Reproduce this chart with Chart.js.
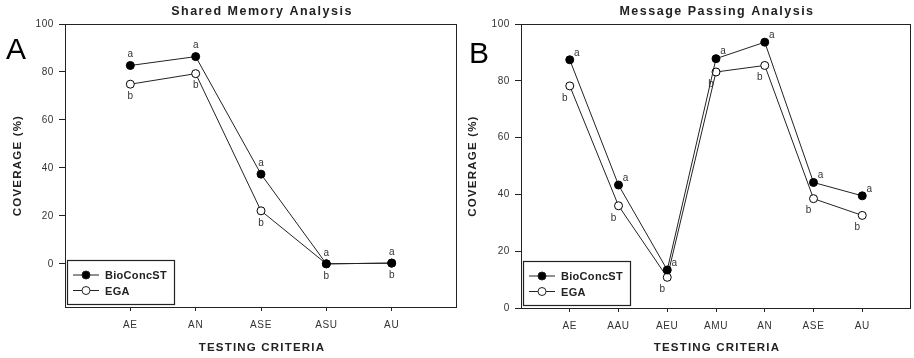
<!DOCTYPE html>
<html>
<head>
<meta charset="utf-8">
<script src="https://cdn.jsdelivr.net/npm/chart.js@4.4.1/dist/chart.umd.min.js"></script>
<style>
  body { margin: 0; background: #fff; }
  .wrap { position: relative; width: 914px; height: 358px; overflow: hidden; }
  .panel { position: absolute; top: 0; width: 462px; height: 358px; }
  #left { left: 0; }
  #right { left: 454px; }
</style>
</head>
<body>
<div class="wrap">
  <div class="panel" id="left"><canvas id="chartA"></canvas></div>
  <div class="panel" id="right"><canvas id="chartB"></canvas></div>
</div>
<script>
// data
const sharedCats = ['AE', 'AN', 'ASE', 'ASU', 'AU'];
const sharedBio = [82.7, 86.4, 37.4, 0, 0.3];
const sharedEga = [74.9, 79.3, 22.1, 0, 0.3];

const msgCats = ['AE', 'AAU', 'AEU', 'AMU', 'AN', 'ASE', 'AU'];
const msgBio = [87.4, 43.3, 13.4, 87.8, 93.6, 44.2, 39.5];
const msgEga = [78.2, 36.0, 10.8, 83.1, 85.4, 38.5, 32.6];

const yTicks = [0, 20, 40, 60, 80, 100];
const bioMark = 'a';
const egaMark = 'b';

const FONT = "'Liberation Sans', Arial, sans-serif";
const INK = '#222';

function toPoints(vals) {
  return vals.map((v, i) => ({ x: i, y: v }));
}

// frame, titles, panel letter, a/b marks and the boxed legend
const decor = {
  id: 'decor',
  beforeDraw(chart) {
    chart.ctx.letterSpacing = '0.6px';
  },
  afterDraw(chart, args, o) {
    const ctx = chart.ctx;
    const a = chart.chartArea;
    ctx.save();
    ctx.strokeStyle = INK;
    ctx.lineWidth = 1;
    ctx.strokeRect(Math.round(a.left) + 0.5, Math.round(a.top) + 0.5,
      Math.round(a.right - a.left) - 1, Math.round(a.bottom - a.top));

    const cx = (a.left + a.right) / 2;
    ctx.fillStyle = INK;
    ctx.textAlign = 'center';
    ctx.textBaseline = 'middle';
    ctx.letterSpacing = '1.5px';
    ctx.font = 'bold 12.5px ' + FONT;
    ctx.fillText(o.title, cx + 1, 12);
    ctx.letterSpacing = '1.2px';
    ctx.font = 'bold 11.5px ' + FONT;
    ctx.fillText('TESTING CRITERIA', cx + 1, 348);

    ctx.save();
    ctx.translate(o.yTitleX, (a.top + a.bottom) / 2);
    ctx.rotate(-Math.PI / 2);
    ctx.fillText('COVERAGE (%)', 0, 0);
    ctx.restore();

    ctx.letterSpacing = '0px';
    ctx.font = '30px ' + FONT;
    ctx.fillStyle = '#000';
    ctx.fillText(o.letter, o.letterX, o.letterY);

    // significance letters
    ctx.font = '10px ' + FONT;
    ctx.fillStyle = '#333';
    chart.data.datasets.forEach((ds, di) => {
      const meta = chart.getDatasetMeta(di);
      const off = di === 0 ? o.aOff : o.bOff;
      meta.data.forEach(el => {
        ctx.fillText(ds.mark, el.x + off[0], el.y + off[1]);
      });
    });

    // legend
    const lx = a.left + 2, ly = a.bottom - 47;
    ctx.strokeStyle = INK;
    ctx.lineWidth = 1.2;
    ctx.strokeRect(lx + 0.5, ly + 0.5, 107, 44);
    ctx.font = 'bold 11px ' + FONT;
    ctx.letterSpacing = '0.3px';
    ctx.textAlign = 'left';
    chart.data.datasets.forEach((ds, di) => {
      const y = ly + 15 + di * 15.5;
      ctx.strokeStyle = INK;
      ctx.lineWidth = 1;
      ctx.beginPath();
      ctx.moveTo(lx + 6, y);
      ctx.lineTo(lx + 32, y);
      ctx.stroke();
      ctx.beginPath();
      ctx.arc(lx + 19, y, 4, 0, Math.PI * 2);
      ctx.fillStyle = ds.pointBackgroundColor;
      ctx.fill();
      ctx.stroke();
      ctx.fillStyle = INK;
      ctx.fillText(ds.label, lx + 38, y + 1);
    });
    ctx.restore();
  }
};

function makeChart(id, cats, bio, ega, yMin, opts) {
  return new Chart(document.getElementById(id), {
    type: 'line',
    data: {
      datasets: [
        {
          label: 'BioConcST', mark: bioMark, data: toPoints(bio),
          borderColor: INK, borderWidth: 1,
          pointBackgroundColor: '#000', pointBorderColor: '#000',
          pointRadius: 4, pointBorderWidth: 1
        },
        {
          label: 'EGA', mark: egaMark, data: toPoints(ega),
          borderColor: INK, borderWidth: 1,
          pointBackgroundColor: '#fff', pointBorderColor: '#000',
          pointRadius: 4, pointBorderWidth: 1
        }
      ]
    },
    options: {
      responsive: false,
      animation: false,
      layout: { padding: { top: 24, right: 0, left: 0, bottom: 0 } },
      plugins: {
        legend: { display: false },
        tooltip: { enabled: false },
        decor: opts
      },
      scales: {
        x: {
          type: 'linear', min: -1, max: cats.length,
          afterBuildTicks: s => { s.ticks = cats.map((c, i) => ({ value: i })); },
          afterFit: s => { s.height = opts.xHeight; },
          ticks: {
            autoSkip: false, maxRotation: 0, padding: 8,
            color: '#333', font: { family: FONT, size: 10 },
            callback: v => cats[v]
          },
          grid: { drawOnChartArea: false, tickLength: 4, color: INK },
          border: { display: false }
        },
        y: {
          min: yMin, max: 100,
          afterBuildTicks: s => { s.ticks = yTicks.map(v => ({ value: v })); },
          afterFit: s => { s.width = opts.yWidth; },
          ticks: {
            padding: 5, color: '#333', font: { family: FONT, size: 10 }
          },
          grid: { drawOnChartArea: false, tickLength: 6, color: INK },
          border: { display: false }
        }
      }
    },
    plugins: [decor]
  });
}

function sizeCanvas(id) {
  const c = document.getElementById(id);
  c.width = 462; c.height = 358;
  c.style.width = '462px'; c.style.height = '358px';
}
sizeCanvas('chartA');
sizeCanvas('chartB');

makeChart('chartA', sharedCats, sharedBio, sharedEga, -18, {
  title: 'Shared Memory Analysis', letter: 'A', letterX: 16, letterY: 51,
  yTitleX: 18, yWidth: 65, xHeight: 51,
  aOff: [0, -11], bOff: [0, 12]
});

makeChart('chartB', msgCats, msgBio, msgEga, 0, {
  title: 'Message Passing Analysis', letter: 'B', letterX: 25, letterY: 55,
  yTitleX: 19, yWidth: 67, xHeight: 50,
  aOff: [7, -7], bOff: [-5, 12]
});
</script>
</body>
</html>
